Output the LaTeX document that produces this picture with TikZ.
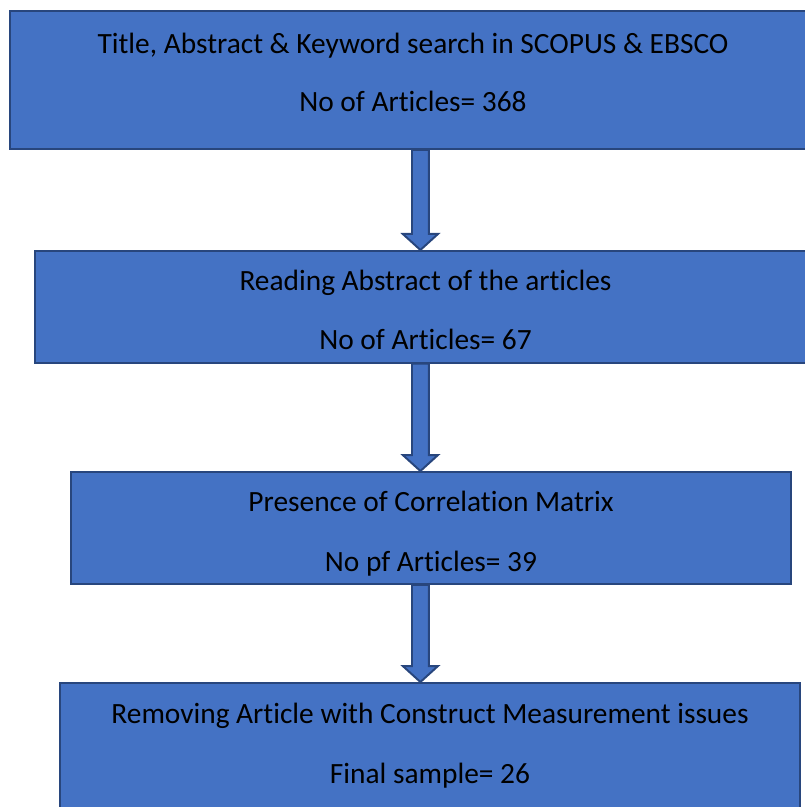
\documentclass[tikz,border=0pt]{standalone}
\usepackage{fontspec}
\setmainfont{Carlito}[Ligatures=NoCommon]
\definecolor{boxBlue}{RGB}{68,114,196}
\definecolor{boxEdge}{RGB}{40,70,125}
\usetikzlibrary{positioning,calc}

\begin{document}
\begin{tikzpicture}[
    box/.style={draw=boxEdge, line width=1.4pt, fill=boxBlue, inner sep=0pt},
    txt/.style={font=\fontsize{20.9}{25}\selectfont, anchor=base, inner sep=0pt},
    blockarrow/.style={draw=boxEdge, line width=1.4pt, fill=boxBlue, line join=miter,
      to path={let \p1=(\tikztostart), \p2=(\tikztotarget) in
        (\x1-0.21cm,\y1) -- (\x1-0.21cm,\y2+0.4cm) -- (\x1-0.44cm,\y2+0.4cm) -- (\x2,\y2)
        -- (\x1+0.44cm,\y2+0.4cm) -- (\x1+0.21cm,\y2+0.4cm) -- (\x1+0.21cm,\y1) -- cycle}}
  ]
    \useasboundingbox (0,0) rectangle (20.125,-20.175);

    % the four screening stages, top to bottom
    \node[box, minimum width=20.15cm, minimum height=3.45cm] (search) at (10.325,-2.0) {};
    \node[box, minimum width=19.525cm, minimum height=2.79cm] (abstract) at (10.6375,-7.669) {};
    \node[box, minimum width=18cm, minimum height=2.8cm] (matrix) at (10.775,-13.2) {};
    \node[box, minimum width=18.5cm, minimum height=3.675cm] (final) at (10.75,-18.9125) {};

    % column of the block arrows
    \coordinate (ax) at (10.51,0);
    \draw[blockarrow] (search.south -| ax) to (abstract.north -| ax);
    \draw[blockarrow] (abstract.south -| ax) to (matrix.north -| ax);
    \draw[blockarrow] (matrix.south -| ax) to (final.north -| ax);

    % texts: first line under the top edge, count one line lower
    \node[txt] (searchA) at ([yshift=-1.075cm]search.north) {Title, Abstract \& Keyword search in SCOPUS \& EBSCO};
    \node[txt] (searchB) at ([yshift=-1.45cm]searchA.base) {No of Articles= 368};

    \node[txt] (abstractA) at ([yshift=-1.025cm]abstract.north) {Reading Abstract of the articles};
    \node[txt] (abstractB) at ([yshift=-1.475cm]abstractA.base) {No of Articles= 67};

    \node[txt] (matrixA) at ([yshift=-1.0cm]matrix.north) {Presence of Correlation Matrix};
    \node[txt] (matrixB) at ([yshift=-1.5cm]matrixA.base) {No pf Articles= 39};

    \node[txt] (finalA) at ([yshift=-1.025cm]final.north) {Removing Article with Construct Measurement issues};
    \node[txt] (finalB) at ([yshift=-1.5cm]finalA.base) {Final sample= 26};
  \end{tikzpicture}
\end{document}
